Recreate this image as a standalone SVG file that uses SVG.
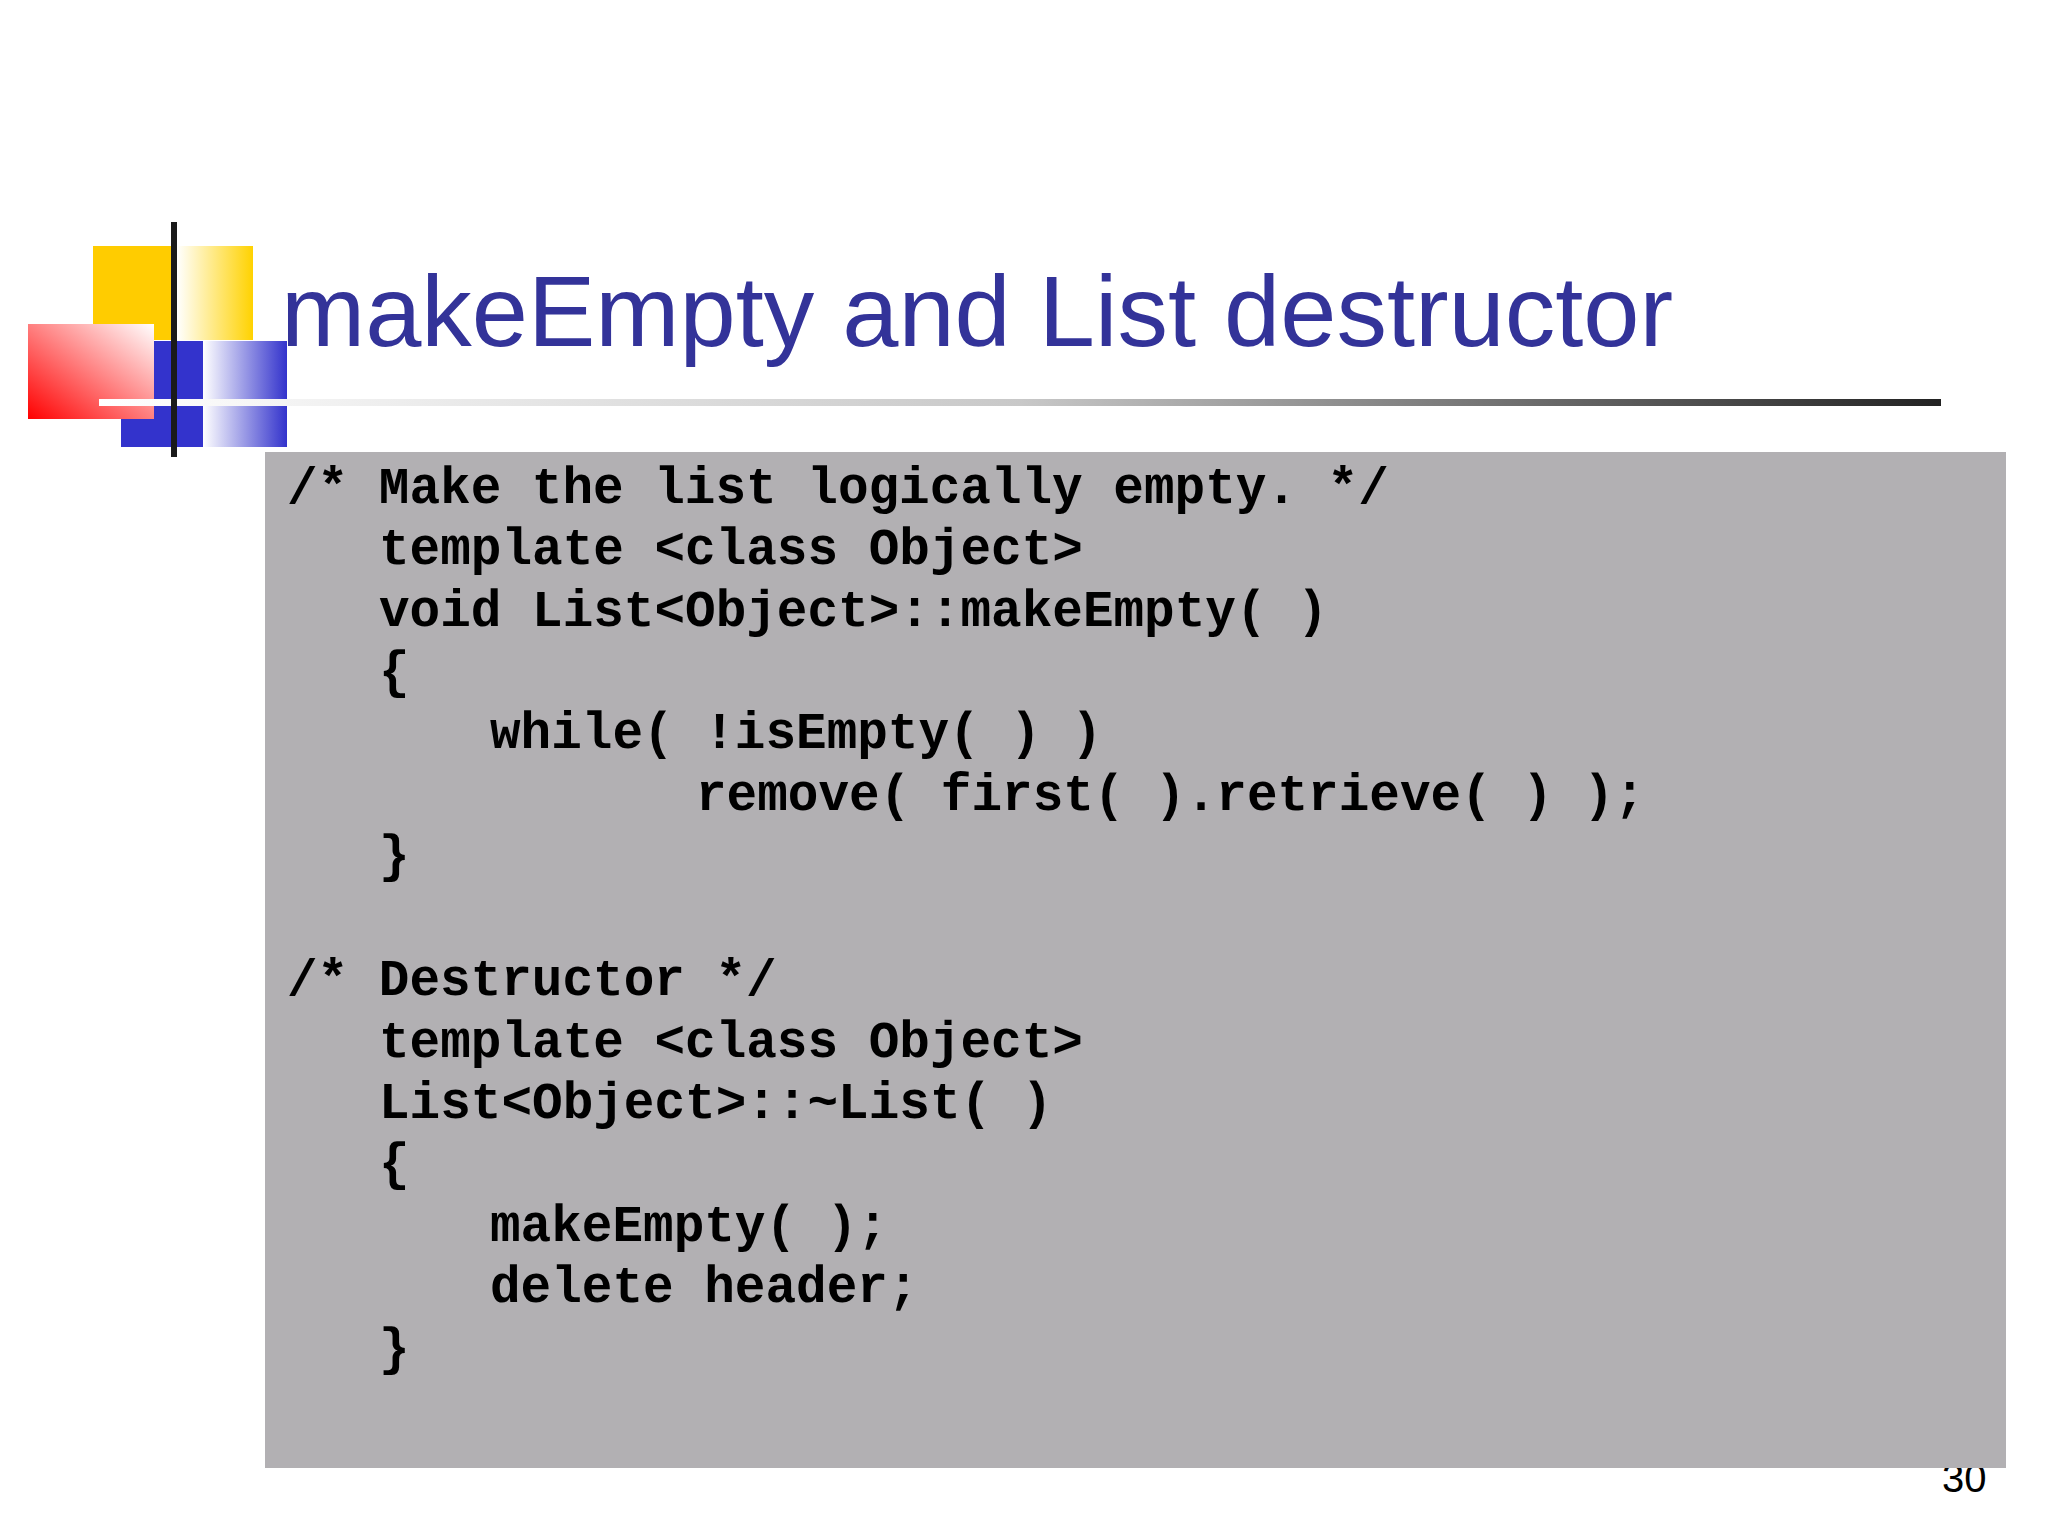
<svg xmlns="http://www.w3.org/2000/svg" width="2048" height="1536" viewBox="0 0 2048 1536">
<defs>
<linearGradient id="gy" x1="0" x2="1" y1="0" y2="0"><stop offset="0" stop-color="#fff"/><stop offset="1" stop-color="#ffd200"/></linearGradient>
<linearGradient id="gb" x1="0" x2="1" y1="0" y2="0"><stop offset="0" stop-color="#fff"/><stop offset="1" stop-color="#3333cc"/></linearGradient>
<linearGradient id="gr" x1="0" y1="1" x2="1" y2="0"><stop offset="0" stop-color="#ff0000"/><stop offset="1" stop-color="#fff"/></linearGradient>
<linearGradient id="gl" x1="0" x2="1" y1="0" y2="0"><stop offset="0" stop-color="#fff"/><stop offset="0.5" stop-color="#c8c8c8"/><stop offset="1" stop-color="#222"/></linearGradient>
<style>.c{font-family:"Liberation Mono",monospace;font-weight:bold;font-size:51px;fill:#000;white-space:pre}</style>
</defs>
<rect width="2048" height="1536" fill="#fff"/>
<g id="logo">
<rect x="93" y="246" width="84" height="94" fill="#ffcc00"/>
<rect x="177" y="246" width="76" height="94" fill="url(#gy)"/>
<rect x="121" y="341" width="82" height="106" fill="#3333cc"/>
<rect x="203" y="341" width="84" height="106" fill="url(#gb)"/>
<rect x="28" y="324" width="126" height="95" fill="url(#gr)"/>
<rect x="99" y="399" width="1842" height="7" fill="url(#gl)"/>
<rect x="171" y="222" width="6" height="235" fill="#1a1a1a"/>
</g>
<text x="281" y="346" font-family="Liberation Sans,Arial,sans-serif" font-size="101" fill="#333399">makeEmpty and List destructor</text>
<text x="1942" y="1492" font-family="Liberation Sans,Arial,sans-serif" font-size="40" fill="#000">30</text>
<g id="code">
<rect x="265" y="452" width="1741" height="1016" fill="#b2b0b3"/>
<text class="c" x="287" y="503">/* Make the list logically empty. */</text>
<text class="c" x="379" y="564">template &lt;class Object&gt;</text>
<text class="c" x="379" y="626">void List&lt;Object&gt;::makeEmpty( )</text>
<text class="c" x="379" y="687">{</text>
<text class="c" x="490" y="748">while( !isEmpty( ) )</text>
<text class="c" x="696" y="810">remove( first( ).retrieve( ) );</text>
<text class="c" x="379" y="871">}</text>
<text class="c" x="287" y="995">/* Destructor */</text>
<text class="c" x="379" y="1057">template &lt;class Object&gt;</text>
<text class="c" x="379" y="1118">List&lt;Object&gt;::~List( )</text>
<text class="c" x="379" y="1179">{</text>
<text class="c" x="490" y="1241">makeEmpty( );</text>
<text class="c" x="490" y="1302">delete header;</text>
<text class="c" x="379" y="1364">}</text>
</g>
</svg>
